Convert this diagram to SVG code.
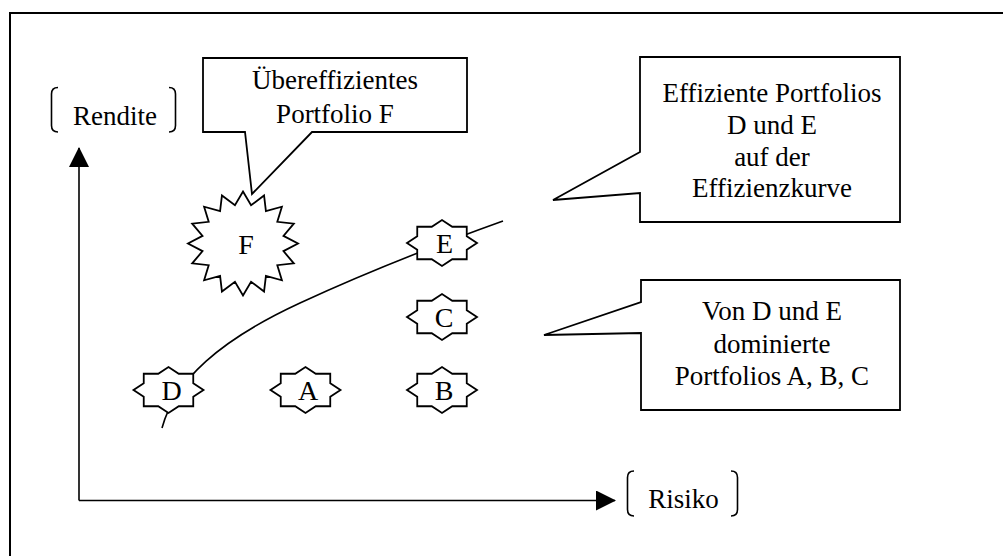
<svg xmlns="http://www.w3.org/2000/svg" width="1003" height="556" viewBox="0 0 1003 556">
  <style>
    .lbl { font-size: 27px; text-anchor: middle; fill: #000; }
    .ltr { font-size: 28px; text-anchor: middle; fill: #000; }
    .shape { fill: #fff; stroke: #000; stroke-width: 1.8; stroke-linejoin: miter; }
    .line { fill: none; stroke: #000; stroke-width: 1.6; }
    .brk { fill: none; stroke: #000; stroke-width: 1.6; }
  </style>
  <defs>
    <!-- eight-point seal used for each portfolio marker -->
    <polygon id="seal8" points="35,0 24.76,6.74 24.75,16.26 10.26,16.26 0,23 -10.26,16.26 -24.75,16.26 -24.76,6.74 -35,0 -24.76,-6.74 -24.75,-16.26 -10.26,-16.26 0,-23 10.26,-16.26 24.75,-16.26 24.76,-6.74"/>
    <marker id="arrow" viewBox="0 0 20 20" refX="19" refY="10" markerWidth="20" markerHeight="20" markerUnits="userSpaceOnUse" orient="auto">
      <path d="M0,0 L20,10 L0,20 Z" fill="#000"/>
    </marker>
  </defs>

  <rect width="1003" height="556" fill="#fff"/>

  <!-- outer frame (left and top edges visible) -->
  <rect x="10" y="13" width="1010" height="560" fill="none" stroke="#000" stroke-width="2"/>

  <!-- axes and efficiency curve -->
  <g id="connectors">
    <path id="axis-y" class="line" d="M79,500.5 L79,148" marker-end="url(#arrow)"/>
    <path id="axis-x" class="line" d="M79,500.5 L615,500.5" marker-end="url(#arrow)"/>
    <path id="frontier" class="line" d="M162,428 C175,380 220,340 300,303 S450,240 503,221"/>
  </g>

  <!-- axis labels in bracket pairs -->
  <g id="label-rendite">
    <path class="brk" d="M58,87.5 Q51.5,87.5 51.5,94 L51.5,125.5 Q51.5,132 58,132"/>
    <path class="brk" d="M169,87.5 Q175.5,87.5 175.5,94 L175.5,125.5 Q175.5,132 169,132"/>
    <text class="lbl" font-family="Liberation Serif" x="115" y="125">Rendite</text>
  </g>
  <g id="label-risiko">
    <path class="brk" d="M634,471 Q627.5,471 627.5,477.5 L627.5,509.5 Q627.5,516 634,516"/>
    <path class="brk" d="M731,471 Q737.5,471 737.5,477.5 L737.5,509.5 Q737.5,516 731,516"/>
    <text class="lbl" font-family="Liberation Serif" x="683.5" y="508">Risiko</text>
  </g>

  <!-- portfolios -->
  <g id="node-F">
    <polygon class="shape" points="243,191.5 251.05,205.25 264.05,195.46 265.92,211.07 281.89,206.73 277.3,221.83 293.81,223.6 283.46,235.89 298,243.5 283.46,251.11 293.81,263.4 277.3,265.17 281.89,280.27 265.92,275.93 264.05,291.54 251.05,281.75 243,295.5 234.95,281.75 221.95,291.54 220.08,275.93 204.11,280.27 208.7,265.17 192.19,263.4 202.54,251.11 188,243.5 202.54,235.89 192.19,223.6 208.7,221.83 204.11,206.73 220.08,211.07 221.95,195.46 234.95,205.25"/>
    <text class="ltr" font-family="Liberation Serif" x="246" y="254">F</text>
  </g>
  <g id="node-D">
    <use href="#seal8" class="shape" transform="translate(168.5,390)"/>
    <text class="ltr" font-family="Liberation Serif" x="171.5" y="400">D</text>
  </g>
  <g id="node-A">
    <use href="#seal8" class="shape" transform="translate(305.5,390)"/>
    <text class="ltr" font-family="Liberation Serif" x="308" y="400">A</text>
  </g>
  <g id="node-B">
    <use href="#seal8" class="shape" transform="translate(442,390)"/>
    <text class="ltr" font-family="Liberation Serif" x="444" y="400">B</text>
  </g>
  <g id="node-C">
    <use href="#seal8" class="shape" transform="translate(442,317)"/>
    <text class="ltr" font-family="Liberation Serif" x="444" y="327">C</text>
  </g>
  <g id="node-E">
    <use href="#seal8" class="shape" transform="translate(442,243)"/>
    <text class="ltr" font-family="Liberation Serif" x="444.5" y="252.5">E</text>
  </g>

  <!-- callouts -->
  <g id="callout-F">
    <polygon class="shape" points="203,58 467,58 467,132 312,132 252,194 245,132 203,132"/>
    <text class="lbl" font-family="Liberation Serif" x="335" y="89">Übereffizientes</text>
    <text class="lbl" font-family="Liberation Serif" x="335" y="123">Portfolio F</text>
  </g>
  <g id="callout-efficient">
    <polygon class="shape" points="640,57 900,57 900,222 640,222 640,193 553,200 640,152"/>
    <text class="lbl" font-family="Liberation Serif" x="772" y="102">Effiziente Portfolios</text>
    <text class="lbl" font-family="Liberation Serif" x="772" y="134">D und E</text>
    <text class="lbl" font-family="Liberation Serif" x="772" y="166">auf der</text>
    <text class="lbl" font-family="Liberation Serif" x="772" y="197">Effizienzkurve</text>
  </g>
  <g id="callout-dominated">
    <polygon class="shape" points="641,280 900,280 900,410 641,410 641,333 544,335 641,302"/>
    <text class="lbl" font-family="Liberation Serif" x="772" y="320">Von D und E</text>
    <text class="lbl" font-family="Liberation Serif" x="772" y="353">dominierte</text>
    <text class="lbl" font-family="Liberation Serif" x="772" y="385">Portfolios A, B, C</text>
  </g>
</svg>
